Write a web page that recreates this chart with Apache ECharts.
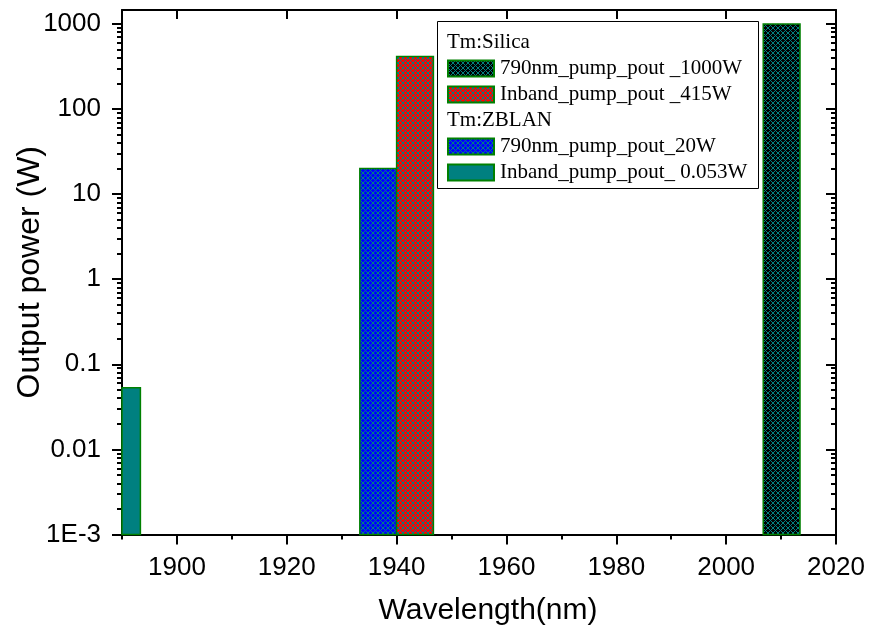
<!DOCTYPE html>
<html>
<head>
<meta charset="utf-8">
<script src="https://cdn.jsdelivr.net/npm/echarts@6/dist/echarts.min.js"></script>
<style>
  html, body { margin: 0; padding: 0; background: #fff; }
  #chart { width: 872px; height: 637px; }
</style>
</head>
<body>
<div id="chart"></div>
<script>
// Output power of Tm fibre lasers by emission wavelength
const seriesNames = [
  '790nm_pump_pout _1000W',
  'Inband_pump_pout _415W',
  '790nm_pump_pout_20W',
  'Inband_pump_pout_ 0.053W'
];
const groupTitles = ['Tm:Silica', 'Tm:ZBLAN'];
const wavelengths = [2010.1, 1943.35, 1936.65, 1890];   // bar centres (nm)
const powers = [1000, 415, 20, 0.053];                  // output power (W)
const barWidthNm = 6.7;

const xMajorTicks = [1900, 1920, 1940, 1960, 1980, 2000, 2020];
const xMinorTicks = [1890, 1910, 1930, 1950, 1970, 1990, 2010];
const yMajorTicks = [0.001, 0.01, 0.1, 1, 10, 100, 1000];
const yTickLabels = ['1E-3', '0.01', '0.1', '1', '10', '100', '1000'];
const yMinorTicks = [];
for (let d = -3; d <= 2; d++) {
  for (let k = 2; k <= 9; k++) yMinorTicks.push(+(k * Math.pow(10, d)).toPrecision(3));
}

const X_MIN = 1890, X_MAX = 2020, Y_MIN = 0.001, Y_MAX = 1460;

// Cross-hatch fill: diagonal lattice of dark cyan lines over a base colour
function hatch(base, line) {
  const s = 5;
  const c = document.createElement('canvas');
  c.width = s; c.height = s;
  const ctx = c.getContext('2d');
  ctx.fillStyle = base;
  ctx.fillRect(0, 0, s, s);
  ctx.fillStyle = line;
  for (let i = 0; i < s; i++) {
    for (let j = 0; j < s; j++) {
      if ((i + j) % s === 0 || ((i - j) % s + s) % s === 0) ctx.fillRect(i, j, 1, 1);
    }
  }
  return { image: c, repeat: 'repeat' };
}

const TEAL = '#008080';
const EDGE = '#008000';
const fills = [
  hatch('#000000', TEAL),
  hatch('#ff0000', TEAL),
  hatch('#0000ff', TEAL),
  TEAL
];

const axisFont = '"Liberation Sans", Arial, sans-serif';
const legendFont = '"Liberation Serif", "Times New Roman", serif';
const black = { color: '#000', width: 2 };

function barSeries(i) {
  return {
    type: 'custom',
    name: seriesNames[i],
    xAxisIndex: 0,
    yAxisIndex: 0,
    data: [[wavelengths[i], powers[i]]],
    renderItem: function (params, api) {
      const x = api.value(0), y = api.value(1);
      const p0 = api.coord([x - barWidthNm / 2, y]);
      const p1 = api.coord([x + barWidthNm / 2, Y_MIN]);
      const cs = params.coordSys;
      const rect = echarts.graphic.clipRectByRect(
        { x: p0[0], y: p0[1], width: p1[0] - p0[0], height: p1[1] - p0[1] },
        { x: cs.x, y: cs.y, width: cs.width, height: cs.height }
      );
      if (!rect) return null;
      return {
        type: 'rect',
        shape: rect,
        style: { fill: fills[i], stroke: EDGE, lineWidth: 1.5 }
      };
    },
    z: 1
  };
}

// Legend box drawn as graphics (two group headings with two entries each)
function legendGraphic() {
  const left = 437.5, top = 21.5;
  const children = [{
    type: 'rect',
    shape: { x: left, y: top, width: 321, height: 167 },
    style: { fill: '#fff', stroke: '#000', lineWidth: 1 }
  }];
  const rows = [
    { kind: 'title', text: groupTitles[0], y: 42.5 },
    { kind: 'item', idx: 0, y: 68.5 },
    { kind: 'item', idx: 1, y: 94.5 },
    { kind: 'title', text: groupTitles[1], y: 120.5 },
    { kind: 'item', idx: 2, y: 146.5 },
    { kind: 'item', idx: 3, y: 172.5 }
  ];
  rows.forEach(function (r) {
    if (r.kind === 'title') {
      children.push({
        type: 'text', x: 447, y: r.y,
        style: { text: r.text, font: '21px ' + legendFont, fill: '#000', verticalAlign: 'middle' }
      });
    } else {
      children.push({
        type: 'rect',
        shape: { x: 448, y: r.y - 8, width: 46, height: 16 },
        style: { fill: fills[r.idx], stroke: EDGE, lineWidth: 2 }
      });
      children.push({
        type: 'text', x: 500, y: r.y,
        style: { text: seriesNames[r.idx], font: '21px ' + legendFont, fill: '#000', verticalAlign: 'middle' }
      });
    }
  });
  return { type: 'group', children: children, z: 10 };
}

function logAxis(position, opts) {
  return Object.assign({
    type: 'log', logBase: 10, min: Y_MIN, max: Y_MAX, position: position,
    splitLine: { show: false },
    axisLine: { show: false, onZero: false },
    axisLabel: { show: false }
  }, opts);
}

function xAxisDef(position, opts) {
  return Object.assign({
    type: 'value', min: X_MIN, max: X_MAX, position: position,
    splitLine: { show: false },
    axisLine: { show: false, onZero: false },
    axisLabel: { show: false }
  }, opts);
}

const chart = echarts.init(document.getElementById('chart'), null, { renderer: 'canvas' });
chart.setOption({
  animation: false,
  backgroundColor: '#fff',
  grid: {
    left: 122, top: 10, width: 714, height: 524.5,
    containLabel: false, outerBoundsMode: 'none'
  },
  xAxis: [
    xAxisDef('bottom', {
      axisLine: { show: true, onZero: false, lineStyle: black },
      axisTick: { customValues: xMajorTicks, length: 10, lineStyle: black },
      axisLabel: {
        show: true, customValues: xMajorTicks, margin: 20,
        fontSize: 26, fontFamily: axisFont, color: '#000',
        formatter: function (v) { return String(Math.round(v)); }
      },
      name: 'Wavelength(nm)', nameLocation: 'middle', nameGap: 61, nameMoveOverlap: false,
      nameTextStyle: { fontSize: 30, fontFamily: axisFont, color: '#000', padding: [0, 0, 0, 18] }
    }),
    xAxisDef('bottom', {
      axisTick: { customValues: xMinorTicks, length: 5, lineStyle: black }
    }),
    xAxisDef('top', {
      axisLine: { show: true, onZero: false, lineStyle: black },
      axisTick: { inside: true, customValues: xMajorTicks, length: 9, lineStyle: black }
    })
  ],
  yAxis: [
    logAxis('left', {
      axisLine: { show: true, onZero: false, lineStyle: black },
      axisTick: { customValues: yMajorTicks, length: 10, lineStyle: black },
      axisLabel: {
        show: true, customValues: yMajorTicks, margin: 21,
        fontSize: 26, fontFamily: axisFont, color: '#000',
        formatter: function (v) { return yTickLabels[Math.round(Math.log10(v)) + 3]; }
      },
      name: 'Output power (W)', nameLocation: 'middle', nameGap: 76, nameMoveOverlap: false,
      nameTextStyle: { fontSize: 32, fontFamily: axisFont, color: '#000' }
    }),
    logAxis('left', {
      axisTick: { customValues: yMinorTicks, length: 5, lineStyle: black }
    }),
    logAxis('right', {
      axisLine: { show: true, onZero: false, lineStyle: black },
      axisTick: { inside: true, customValues: yMajorTicks, length: 10, lineStyle: black }
    }),
    logAxis('right', {
      axisTick: { inside: true, customValues: yMinorTicks, length: 5, lineStyle: black }
    })
  ],
  series: [barSeries(3), barSeries(2), barSeries(1), barSeries(0)],
  graphic: [legendGraphic()]
});
</script>
</body>
</html>
